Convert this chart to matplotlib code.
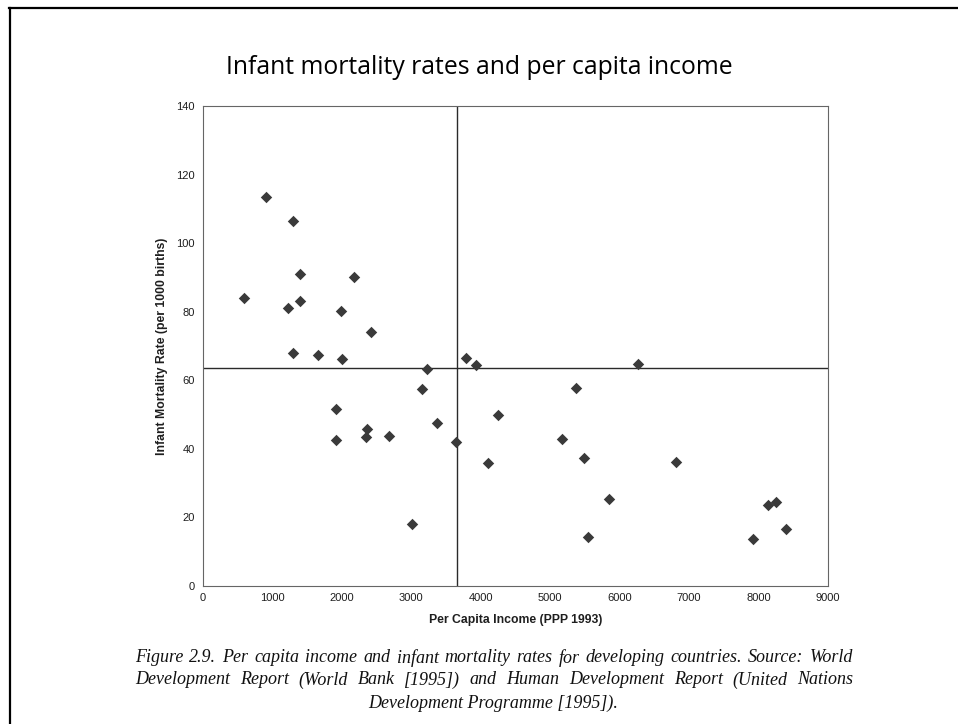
import matplotlib
matplotlib.use("Agg")
import matplotlib.pyplot as plt
from matplotlib.lines import Line2D

# ---------------- data ----------------
income = [586, 903, 1292, 1402, 1220, 1402, 1297, 1662, 1984, 2008, 2180, 2421,
          1916, 1916, 2358, 2349, 2680, 3160, 3230, 3365, 3005, 3648, 3792, 3934,
          4246, 4111, 5168, 5370, 5490, 5538, 5848, 6268, 6815, 7925, 8131, 8252, 8401]
imr = [83.9, 113.5, 106.5, 91.0, 81.0, 83.2, 68.1, 67.3, 80.3, 66.2, 90.0, 74.1,
       51.5, 42.6, 45.7, 43.5, 43.7, 57.6, 63.4, 47.6, 18.1, 41.9, 66.4, 64.5,
       49.9, 36.0, 42.9, 57.8, 37.2, 14.4, 25.3, 64.7, 36.2, 13.6, 23.5, 24.6, 16.7]
mean_income = 3655
mean_imr = 63.5
xticks = [0, 1000, 2000, 3000, 4000, 5000, 6000, 7000, 8000, 9000]
yticks = [0, 20, 40, 60, 80, 100, 120, 140]

title = "Infant mortality rates and per capita income"
xlabel = "Per Capita Income (PPP 1993)"
ylabel = "Infant Mortality Rate (per 1000 births)"
caption = [
    "Figure 2.9. Per capita income and infant mortality rates for developing countries. Source: World",
    "Development Report (World Bank [1995]) and Human Development Report (United Nations",
    "Development Programme [1995]).",
]

W, H = 958, 724
fig = plt.figure(figsize=(W / 100, H / 100), dpi=100)
fig.patch.set_facecolor("white")

def px(x, y):
    return x / W, 1 - y / H

# axes box
L, R, T, B = 203, 828, 106, 586
ax = fig.add_axes([L / W, 1 - B / H, (R - L) / W, (B - T) / H])
ax.scatter(income, imr, marker="D", s=34, color="#3a3a3a", linewidths=0, zorder=3)
ax.axvline(mean_income, color="#2a2a2a", lw=1.0, zorder=2)
ax.axhline(mean_imr, color="#2a2a2a", lw=1.0, zorder=2)
ax.set_xlim(0, 9000)
ax.set_ylim(0, 140)
ax.set_xticks(xticks)
ax.set_yticks(yticks)
ax.tick_params(length=0, labelsize=8, colors="#1e1e1e")
ax.tick_params(axis="y", pad=6)
ax.tick_params(axis="x", pad=5)
for lab in ax.get_xticklabels() + ax.get_yticklabels():
    lab.set_family("Liberation Sans")
for s in ax.spines.values():
    s.set_color("#666666")
    s.set_linewidth(0.8)
ax.set_xlabel(xlabel, fontsize=8.8, fontweight="bold", family="Liberation Sans",
              color="#1e1e1e", labelpad=8)
ax.set_ylabel(ylabel, fontsize=8.8, fontweight="bold", family="Liberation Sans",
              color="#1e1e1e", labelpad=6)

# slide border (top and left visible)
fig.add_artist(Line2D([9 / W, 1], [1 - 8 / H, 1 - 8 / H], transform=fig.transFigure,
                      color="black", lw=1.6))
fig.add_artist(Line2D([10 / W, 10 / W], [0, 1 - 8 / H], transform=fig.transFigure,
                      color="black", lw=1.6))

renderer = fig.canvas.get_renderer()

def width_of(t):
    return t.get_window_extent(renderer=renderer).width

# title fitted to width
tt = fig.text(*px(479, 68), title, ha="center", va="center", fontsize=20,
              family="Open Sans", color="black")
w = width_of(tt)
tt.set_fontsize(20 * 506 / w)

# caption, justified
cap_kw = dict(family="Liberation Serif", style="italic", color="#111111", va="center")
probe = fig.text(0, 0, caption[0], fontsize=12, **cap_kw)
fs = 12 * 700 / width_of(probe)
probe.remove()
cx0, cx1 = 135, 853
ys = [658, 680, 703]
for i, line in enumerate(caption):
    y = ys[i]
    if i < 2:
        words = line.split(" ")
        ts = [fig.text(0, 1 - y / H, wd, fontsize=fs, ha="left", **cap_kw) for wd in words]
        ws = [width_of(t) for t in ts]
        gap = (cx1 - cx0 - sum(ws)) / (len(words) - 1)
        x = cx0
        for t, wd in zip(ts, ws):
            t.set_x(x / W)
            x += wd + gap
    else:
        fig.text(493 / W, 1 - y / H, line, fontsize=fs, ha="center", **cap_kw)

fig.savefig("out.png", dpi=100, facecolor="white")
